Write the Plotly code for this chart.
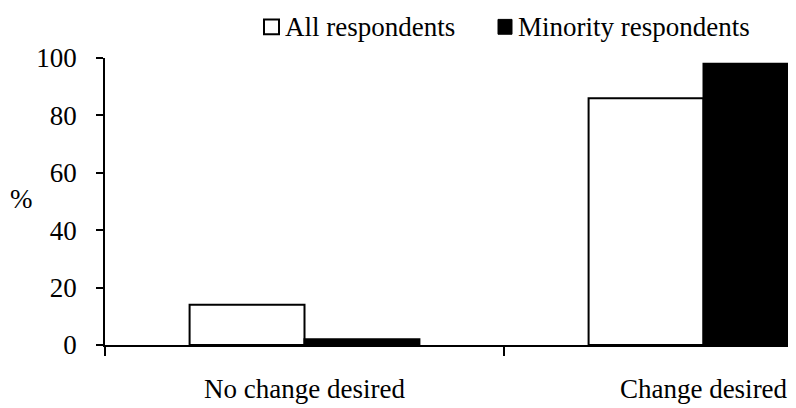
import plotly.graph_objects as go

categories = ["No change desired", "Change desired"]
all_resp = [14, 86]
minority_resp = [2, 98]
series_names = ["All respondents", "Minority respondents"]
y_ticks = [0, 20, 40, 60, 80, 100]

FONT = "Liberation Serif"
FS = 27

# page body has an 8px margin; size the figure to fill the visible window
OFF = 8
W, H = 796 - OFF, 408 - OFF
L, R, T, B = 105 - OFF, 4, 58 - OFF, 60
pw = W - L - R
ph = H - T - B

def px(x):
    return (x - OFF - L) / pw

def py(y):
    return (H - B - (y - OFF)) / ph

fig = go.Figure()
fig.add_trace(go.Bar(x=categories, y=all_resp, name=series_names[0],
                     marker=dict(color="white", line=dict(color="black", width=2))))
fig.add_trace(go.Bar(x=categories, y=minority_resp, name=series_names[1],
                     marker=dict(color="black", line=dict(color="black", width=2))))

fig.update_layout(
    width=W, height=H,
    margin=dict(l=L, r=R, t=T, b=B),
    paper_bgcolor="white", plot_bgcolor="white",
    barmode="group", bargap=0.424, bargroupgap=0,
    showlegend=False,
    font=dict(family=FONT, size=FS, color="black"),
    xaxis=dict(type="category", range=[-0.5, -0.5 + pw / 399],
               showline=True, linecolor="black", linewidth=1.5,
               ticks="outside", tickson="boundaries", ticklen=9, tickwidth=1.5,
               tickcolor="black", showgrid=False, zeroline=False,
               ticklabelstandoff=19,
               tickfont=dict(family=FONT, size=FS, color="black")),
    yaxis=dict(range=[0, 100], tickvals=y_ticks,
               showline=True, linecolor="black", linewidth=1.5,
               ticks="outside", ticklen=7, tickwidth=1.5, tickcolor="black",
               showgrid=False, zeroline=False, ticklabelstandoff=14,
               tickfont=dict(family=FONT, size=FS, color="black")),
    shapes=[
        dict(type="rect", xref="paper", yref="paper",
             x0=px(264), x1=px(279), y0=py(34), y1=py(19),
             line=dict(color="black", width=2), fillcolor="white"),
        dict(type="rect", xref="paper", yref="paper",
             x0=px(498), x1=px(512), y0=py(34), y1=py(19),
             line=dict(color="black", width=1), fillcolor="black"),
    ],
    annotations=[
        dict(text=series_names[0], xref="paper", yref="paper", x=px(283), y=py(27),
             xanchor="left", yanchor="middle", showarrow=False,
             font=dict(family=FONT, size=FS, color="black")),
        dict(text=series_names[1], xref="paper", yref="paper", x=px(516), y=py(27),
             xanchor="left", yanchor="middle", showarrow=False,
             font=dict(family=FONT, size=FS, color="black")),
        dict(text="%", xref="paper", yref="paper", x=px(21), y=py(200),
             xanchor="center", yanchor="middle", showarrow=False,
             font=dict(family=FONT, size=FS, color="black")),
    ],
)

fig.write_html("out.html")
